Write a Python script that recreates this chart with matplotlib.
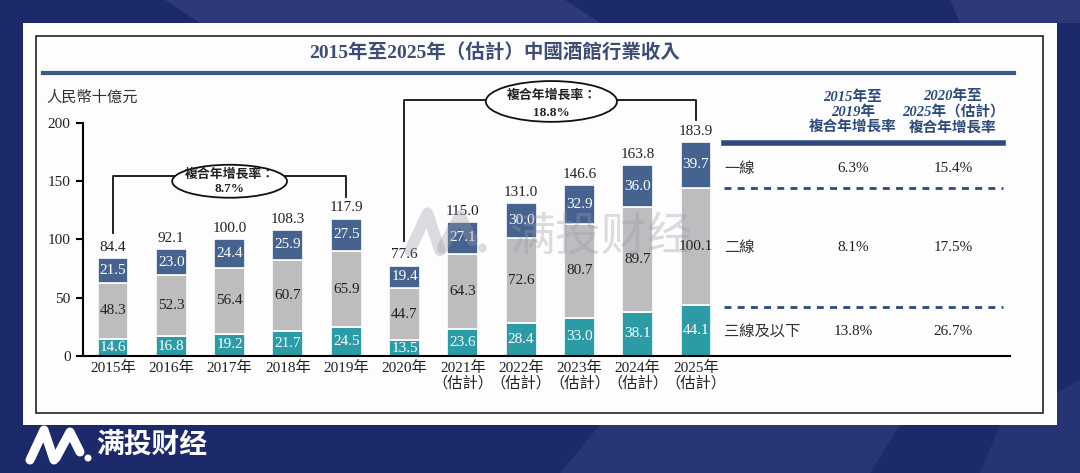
import matplotlib
matplotlib.use('Agg')
import matplotlib.pyplot as plt
from matplotlib.patches import Rectangle, Ellipse, Polygon
from matplotlib.lines import Line2D

plt.rcParams['lines.scale_dashes'] = False

# ---------------- data ----------------
years = ['2015年', '2016年', '2017年', '2018年', '2019年', '2020年',
         '2021年\n（估計）', '2022年\n（估計）', '2023年\n（估計）',
         '2024年\n（估計）', '2025年\n（估計）']
tier3 = [14.6, 16.8, 19.2, 21.7, 24.5, 13.5, 23.6, 28.4, 33.0, 38.1, 44.1]
tier2 = [48.3, 52.3, 56.4, 60.7, 65.9, 44.7, 64.3, 72.6, 80.7, 89.7, 100.1]
tier1 = [21.5, 23.0, 24.4, 25.9, 27.5, 19.4, 27.1, 30.0, 32.9, 36.0, 39.7]
totals = [84.4, 92.1, 100.0, 108.3, 117.9, 77.6, 115.0, 131.0, 146.6, 163.8, 183.9]
cagr_spans = [(0, 4, '8.7%'), (5, 10, '18.8%')]
yticks = [0, 50, 100, 150, 200]

title = '2015年至2025年（估計）中國酒館行業收入'
unit = '人民幣十億元'
table_head = ['2015年至\n2019年\n複合年增長率', '2020年至\n2025年（估計）\n複合年增長率']
table_rows = ['一線', '二線', '三線及以下']
cagr_1519 = ['6.3%', '8.1%', '13.8%']
cagr_2025 = ['15.4%', '17.5%', '26.7%']

# ---------------- style ----------------
NAVY = '#1c2a6c'
C_TOP = '#46638f'
C_MID = '#bdbdc0'
C_BOT = '#2b9ba6'
C_TITLE = '#3d4d74'
C_TAB = '#2c4a7e'
SERIF = ['Liberation Serif', 'Noto Sans CJK TC']
CJK = ['Noto Sans CJK TC', 'Liberation Serif']

W, H = 1080, 473
fig = plt.figure(figsize=(W / 100, H / 100), dpi=100)
fig.patch.set_facecolor(NAVY)

# background / decoration layer in pixel coordinates
bg = fig.add_axes([0, 0, 1, 1], zorder=0)
bg.set_xlim(0, W)
bg.set_ylim(H, 0)
bg.axis('off')
bg.patch.set_alpha(0)

# subtle lighter bands in navy background
for pts, a in [([(165, 0), (565, 0), (600, 23), (200, 23)], 0.08),
               ([(950, 0), (1080, 0), (1080, 23), (960, 23)], 0.08),
               ([(600, 425), (900, 425), (870, 473), (560, 473)], 0.06),
               ([(1000, 425), (1080, 380), (1080, 473), (980, 473)], 0.05)]:
    bg.add_patch(Polygon(pts, closed=True, facecolor='white', alpha=a, lw=0))

bg.add_patch(Rectangle((23, 23), 1034, 402, facecolor='#fdfdfe', edgecolor='none'))
bg.add_patch(Rectangle((36, 36), 1007, 377, facecolor='none', edgecolor='#222222', lw=1.2))

bg.text(495, 53, title, ha='center', va='center', fontsize=14, fontweight='bold',
        color=C_TITLE, family=SERIF)
bg.add_line(Line2D([43, 1014], [73, 73], color='#3a5a8c', lw=3))

bg.text(46, 97, unit, ha='left', va='center', fontsize=11, color='#333333',
        family=CJK, fontweight='light')

# table on the right
for txt, cx in zip(table_head, [853, 953]):
    bg.text(cx, 112, txt, ha='center', va='center', fontsize=10.5, fontweight='bold',
            style='italic', color=C_TAB, family=SERIF, linespacing=1.15)
bg.add_line(Line2D([724, 1003], [143, 143], color=C_TAB, lw=4))
row_y = [168, 247, 331]
for ry, lab, v1, v2 in zip(row_y, table_rows, cagr_1519, cagr_2025):
    bg.text(724, ry, lab, ha='left', va='center', fontsize=11, color='#333333',
            family=CJK, fontweight='light')
    bg.text(853, ry, v1, ha='center', va='center', fontsize=11, color='#222222', family=SERIF)
    bg.text(953, ry, v2, ha='center', va='center', fontsize=11, color='#222222', family=SERIF)
for dy in [188, 307]:
    bg.add_line(Line2D([724, 1003], [dy, dy], color=C_TAB, lw=2, linestyle=(0, (5, 4.5))))


def logo(axl, x0, y0, s, color, alpha=1.0):
    # simple "M." mark: two peaks and a dot
    axl.add_line(Line2D([x0, x0 + 14 * s, x0 + 24 * s], [y0 + 30 * s, y0, y0 + 30 * s],
                        color=color, lw=6.5 * s, alpha=alpha, solid_capstyle='round',
                        solid_joinstyle='round'))
    axl.add_line(Line2D([x0 + 26 * s, x0 + 40 * s, x0 + 50 * s], [y0 + 28 * s, y0 + 2 * s, y0 + 22 * s],
                        color=color, lw=6.5 * s, alpha=alpha, solid_capstyle='round',
                        solid_joinstyle='round'))
    axl.add_patch(Ellipse((x0 + 58 * s, y0 + 28 * s), 7 * s, 7 * s, color=color, alpha=alpha, lw=0))


logo(bg, 30, 430, 1.0, 'white')
bg.text(96, 445, '满投财经', ha='left', va='center', fontsize=20, fontweight='bold',
        color='white', family=CJK)

# ---------------- chart ----------------
x0_px, x1_px, yb_px, yt_px = 83, 1010, 356, 123
ax = fig.add_axes([x0_px / W, 1 - yb_px / H, (x1_px - x0_px) / W, (yb_px - yt_px) / H], zorder=2)
ax.patch.set_alpha(0)
step = 58.3
ax.set_xlim((x0_px - 113) / step, (x1_px - 113) / step)
ax.set_ylim(0, 200)

xs = list(range(len(years)))
bw = 0.53
b1 = ax.bar(xs, tier3, bw, color=C_BOT, edgecolor='white', lw=1.2)
b2 = ax.bar(xs, tier2, bw, bottom=tier3, color=C_MID, edgecolor='white', lw=1.2)
bot3 = [a + b for a, b in zip(tier3, tier2)]
b3 = ax.bar(xs, tier1, bw, bottom=bot3, color=C_TOP, edgecolor='white', lw=1.2)

for x, a, b, c, t in zip(xs, tier3, tier2, tier1, totals):
    ax.text(x, a / 2, f'{a:.1f}', ha='center', va='center', color='white', fontsize=11, family=SERIF)
    ax.text(x, a + b / 2, f'{b:.1f}', ha='center', va='center', color='#222222', fontsize=11, family=SERIF)
    ax.text(x, a + b + c / 2, f'{c:.1f}', ha='center', va='center', color='white', fontsize=11, family=SERIF)
    ax.annotate(f'{t:.1f}', (x, a + b + c), xytext=(0, 3), textcoords='offset points',
                ha='center', va='bottom', fontsize=11, color='#222222', family=SERIF)

for sp in ['top', 'right']:
    ax.spines[sp].set_visible(False)
ax.spines['left'].set_linewidth(1.5)
ax.spines['bottom'].set_linewidth(1.5)
ax.spines['left'].set_bounds(0, 200)
ax.set_yticks(yticks)
ax.set_yticklabels([str(v) for v in yticks], family=SERIF, fontsize=11, color='#222222')
ax.tick_params(axis='y', direction='out', length=5, width=1.5, pad=4)
ax.set_xticks(xs)
ax.set_xticklabels(years, family=SERIF, fontsize=11, color='#222222', linespacing=1.05)
ax.tick_params(axis='x', length=0, pad=4)

# CAGR brackets
geo = {0: dict(hy=154.5, ey=150.0, ew=1.97, eh=28.3, l1=156.0, l2=143.3),
       1: dict(hy=219.7, ey=218.5, ew=2.25, eh=35.0, l1=224.5, l2=209.0)}
for k, (i0, i1, val) in enumerate(cagr_spans):
    g = geo[k]
    cx = (i0 + i1) / 2 if k == 0 else 7.52
    ax.plot([i0, i0, i1, i1], [totals[i0] + 21, g['hy'], g['hy'], totals[i1] + 19],
            color='#111111', lw=1.3, clip_on=False, zorder=3)
    ax.add_patch(Ellipse((cx, g['ey']), g['ew'], g['eh'], facecolor='white',
                         edgecolor='#111111', lw=1.3, clip_on=False, zorder=4))
    ax.text(cx, g['l1'], '複合年增長率：', ha='center', va='center', fontsize=9.3,
            fontweight='bold', color='#222222', family=CJK, zorder=5, clip_on=False)
    ax.text(cx, g['l2'], val, ha='center', va='center', fontsize=9.5,
            fontweight='bold', color='#222222', family=SERIF, zorder=5, clip_on=False)

# watermark
wm = fig.add_axes([0, 0, 1, 1], zorder=3)
wm.set_xlim(0, W)
wm.set_ylim(H, 0)
wm.axis('off')
wm.patch.set_alpha(0)
logo(wm, 410, 213, 1.25, '#9a9aa6', alpha=0.35)
wm.text(601, 237, '满投财经', ha='center', va='center', fontsize=33, color='#9a9aa6',
        alpha=0.35, family=CJK)

fig.savefig('out.png', dpi=100, facecolor=fig.get_facecolor())
